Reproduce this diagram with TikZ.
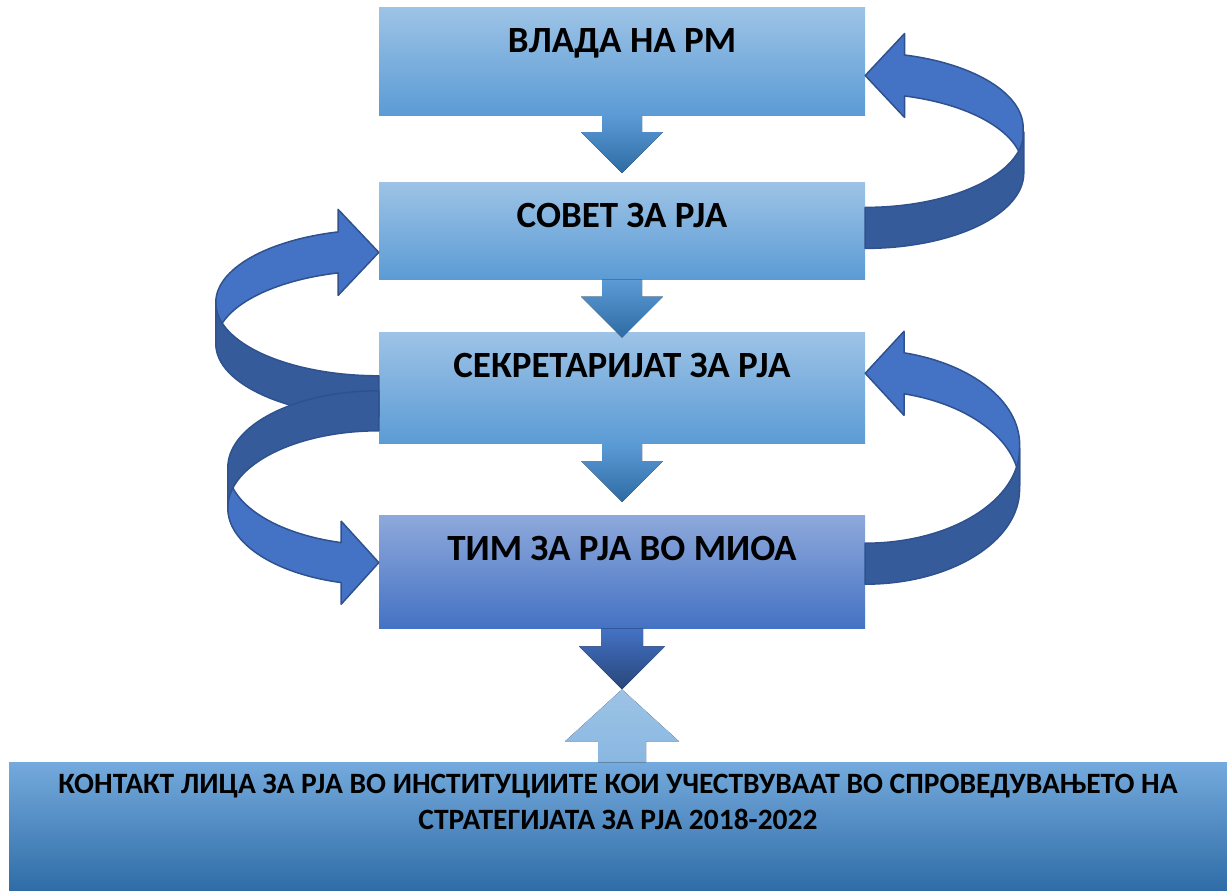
\documentclass[tikz,border=0pt]{standalone}
\usepackage{fontspec}
\setmainfont{Carlito}
\usetikzlibrary{positioning}

\definecolor{boxtop}{HTML}{9DC3E6}
\definecolor{boxbot}{HTML}{5B9BD5}
\definecolor{timtop}{HTML}{8EA9DB}
\definecolor{timbot}{HTML}{4472C4}
\definecolor{kontop}{HTML}{74AADD}
\definecolor{konbot}{HTML}{2E6BA5}
\definecolor{ribbonfront}{HTML}{4472C4}
\definecolor{ribbonback}{HTML}{355B9B}
\definecolor{ribbonline}{HTML}{2F528F}

\begin{document}
\begin{tikzpicture}[x=1pt,y=-1pt,node distance=67pt,
    every text node part/.style={align=center},
    box/.style={rectangle,inner sep=0pt,minimum width=486pt,
                top color=boxtop,bottom color=boxbot},
    boxtext/.style={anchor=base,yshift=-45pt,text=black,
                    font=\fontsize{37}{44}\selectfont\bfseries},
    kontakttext/.style={anchor=base,yshift=-67pt,text=black,align=center,
                    font=\fontsize{29.5}{36}\selectfont\bfseries},
    stepdown/.style={top color=boxbot,bottom color=konbot},
    ribbonlight/.style={fill=ribbonfront,draw=ribbonline,line width=1.5pt,line join=round},
    ribbondark/.style={fill=ribbonback,draw=ribbonline,line width=1.5pt,line join=round}]
  \useasboundingbox (0,0) rectangle (1227,891);

  \node[box,minimum height=107pt,label={[boxtext]north:ВЛАДА НА РМ}] (vlada) at (622,61.5) {};
  \node[box,minimum height=97pt,label={[boxtext]north:СОВЕТ ЗА РЈА}] (sovet) [below=67pt of vlada] {};
  \node[box,minimum height=111pt,label={[boxtext]north:СЕКРЕТАРИЈАТ ЗА РЈА}] (sekretarijat) [below=53pt of sovet] {};
  \node[box,minimum height=113pt,top color=timtop,bottom color=timbot,
        label={[boxtext]north:ТИМ ЗА РЈА ВО МИОА}] (tim) [below=71pt of sekretarijat] {};
  \node[box,minimum width=1218pt,minimum height=130pt,top color=kontop,bottom color=konbot,
        label={[kontakttext]north:КОНТАКТ ЛИЦА ЗА РЈА ВО ИНСТИТУЦИИТЕ КОИ УЧЕСТВУВААТ ВО СПРОВЕДУВАЊЕТО НА\\СТРАТЕГИЈАТА ЗА РЈА 2018-2022}]
        (kontakt) [below=134pt of tim,xshift=-4pt] {};

  % straight arrows down the chain
  \foreach \from in {vlada,sovet,sekretarijat}
    \fill[stepdown] ([xshift=-20pt]\from.south) -- ++(0,17) -- ++(-21,0) -- ++(41,41)
                    -- ++(41,-41) -- ++(-21,0) -- ++(0,-17) -- cycle;
  \fill[top color=timbot,bottom color=ribbonline!85!black] ([xshift=-21pt]tim.south) -- ++(0,18)
       -- ++(-22,0) -- ++(43,43) -- ++(43,-43) -- ++(-22,0) -- ++(0,-18) -- cycle;
  \fill[top color=boxtop,bottom color=boxtop!70!boxbot] ([xshift=-24pt]kontakt.north) ++(4,0) -- ++(0,-21)
       -- ++(-33,0) -- ++(57,-52) -- ++(57,52) -- ++(-33,0) -- ++(0,21) -- cycle;

  % left loop: sekretarijat -> sovet
  \draw[ribbonlight] ([yshift=-21.5pt]sovet.west) -- ++(-40.7,-43) -- ++(0,22.5)
       arc[start angle=255,end angle=180,x radius=165,y radius=73] -- ++(0,41)
       arc[start angle=180,end angle=255,x radius=165,y radius=73] -- ++(0,22.5) -- cycle;
  \draw[ribbondark] ([shift={(0,-12.5)}]sekretarijat.west)
       arc[start angle=90,end angle=180,x radius=163,y radius=73] -- ++(0,41)
       arc[start angle=180,end angle=90,x radius=163,y radius=73] -- cycle;

  % left loop: sekretarijat -> tim
  \draw[ribbonlight] ([yshift=9.1pt]tim.west) -- ++(-37.6,-41.4) -- ++(0,21.4)
       arc[start angle=105,end angle=180,x radius=153,y radius=77] -- ++(0,40)
       arc[start angle=180,end angle=105,x radius=153,y radius=77] -- ++(0,21.6) -- cycle;
  \draw[ribbondark] ([shift={(0,2.5)}]sekretarijat.west)
       arc[start angle=270,end angle=180,x radius=151,y radius=77] -- ++(0,40)
       arc[start angle=180,end angle=270,x radius=151,y radius=77] -- cycle;

  % right loop: sovet -> vlada
  \draw[ribbonlight] ([yshift=-14pt]vlada.east) -- ++(39.4,-42) -- ++(0,21.5)
       arc[start angle=-75,end angle=0,x radius=160,y radius=75.5] -- ++(0,41)
       arc[start angle=0,end angle=-75,x radius=160,y radius=75.5] -- ++(0,21.5) -- cycle;
  \draw[ribbondark] ([shift={(0,-23.5)}]sovet.east)
       arc[start angle=90,end angle=0,x radius=158.6,y radius=75.5] -- ++(0,41)
       arc[start angle=0,end angle=90,x radius=158.6,y radius=75.5] -- cycle;

  % right loop: tim -> sekretarijat
  \draw[ribbonlight] ([yshift=15pt]sekretarijat.east) -- ++(38.8,-42) -- ++(0,21.5)
       arc[start angle=-75,end angle=0,x radius=156,y radius=95] -- ++(0,41)
       arc[start angle=0,end angle=-75,x radius=156,y radius=95] -- ++(0,21.5) -- cycle;
  \draw[ribbondark] ([shift={(0,-28.5)}]tim.east)
       arc[start angle=90,end angle=0,x radius=154.4,y radius=95] -- ++(0,41)
       arc[start angle=0,end angle=90,x radius=154.4,y radius=95] -- cycle;
\end{tikzpicture}
\end{document}
